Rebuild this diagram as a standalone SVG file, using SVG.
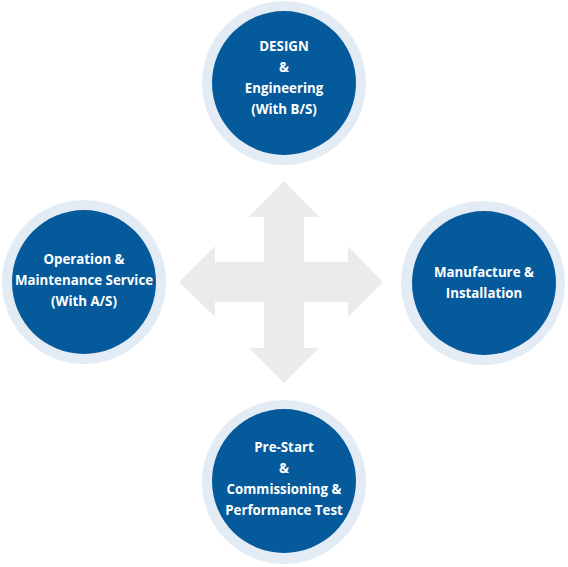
<svg xmlns="http://www.w3.org/2000/svg" width="568" height="567" viewBox="0 0 568 567">
<style>
.ring{fill:#e3ebf4}
.core{fill:#055a9b}
.lbl{font-family:"Open Sans","Noto Sans","Liberation Sans",sans-serif;font-weight:bold;font-size:13.3px;fill:#ffffff;text-anchor:middle}
.arrow{fill:#ebebeb}
</style>
<rect width="568" height="567" fill="#ffffff"/>
<g id="connectors">
<polygon class="arrow" points="284,181 319,217 304,217 304,262 348,262 348,246 383,282 348,317 348,302 304,302 304,348 319,348 284,383 249,348 264,348 264,302 215,302 215,317 179,282 215,246 215,262 264,262 264,217 249,217"/>
</g>
<g id="design">
<circle class="ring" cx="284" cy="83" r="82"/>
<circle class="core" cx="284" cy="83" r="72"/>
<text class="lbl" x="284" y="51">DESIGN</text>
<text class="lbl" x="284" y="72">&amp;</text>
<text class="lbl" x="284" y="93">Engineering</text>
<text class="lbl" x="284" y="114">(With B/S)</text>
</g>
<g id="operation">
<circle class="ring" cx="84" cy="282" r="82"/>
<circle class="core" cx="84" cy="282" r="72"/>
<text class="lbl" x="84" y="264">Operation &amp;</text>
<text class="lbl" x="84" y="285">Maintenance Service</text>
<text class="lbl" x="84" y="306">(With A/S)</text>
</g>
<g id="manufacture">
<circle class="ring" cx="483" cy="283" r="82"/>
<circle class="core" cx="484" cy="283" r="72"/>
<text class="lbl" x="484" y="277">Manufacture &amp;</text>
<text class="lbl" x="484" y="298">Installation</text>
</g>
<g id="prestart">
<circle class="ring" cx="284" cy="482" r="82"/>
<circle class="core" cx="284" cy="481" r="72"/>
<text class="lbl" x="284" y="452">Pre-Start</text>
<text class="lbl" x="284" y="473">&amp;</text>
<text class="lbl" x="284" y="494">Commissioning &amp;</text>
<text class="lbl" x="284" y="515">Performance Test</text>
</g>
</svg>
